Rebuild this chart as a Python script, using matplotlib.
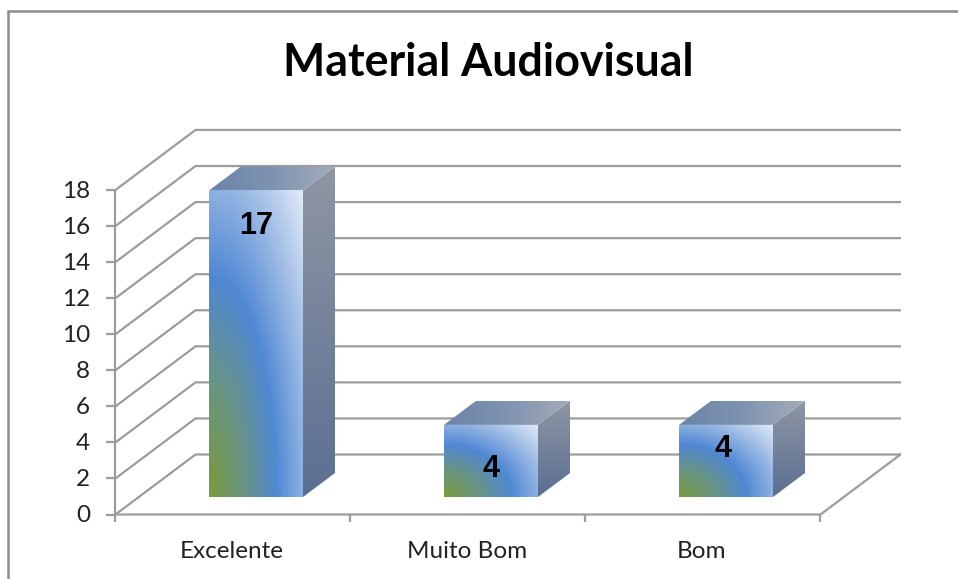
import numpy as np
import matplotlib
matplotlib.use("Agg")
import matplotlib.pyplot as plt
from matplotlib.colors import LinearSegmentedColormap
from matplotlib.patches import Polygon

title = "Material Audiovisual"
categories = ["Excelente", "Muito Bom", "Bom"]
values = [17, 4, 4]
label_heights = [16.0, 2.55, 3.65]
label_shift = [0, 0, -3]
yticks = list(range(0, 20, 2))

W, H = 958, 579
X0, Y0 = 115.5, 514.5
UNIT = 18.03
SLOT = 235.0
DX, DY = 80.0, -60.0
BAR_W = 94.0
GRID = "#9c9c9c"
TEXT = "#222222"

fig = plt.figure(figsize=(W / 100, H / 100), dpi=100, facecolor="white")
ax = fig.add_axes([0, 0, 1, 1])
ax.set_xlim(0, W)
ax.set_ylim(H, 0)
ax.axis("off")


def P(slot, value, depth=0.0):
    return (X0 + slot * SLOT + depth * DX, Y0 - value * UNIT + depth * DY)


def line(pts, lw=1.6, z=1, c=GRID):
    xs, ys = zip(*pts)
    ax.plot(xs, ys, color=c, lw=lw, zorder=z, solid_capstyle="butt", solid_joinstyle="miter")


# outer frame
line([(8, H), (8, 10.5), (W, 10.5)], lw=1.8, c="#8c8c8c")

n = len(categories)
for v in yticks:
    line([P(0, v), P(0, v, 1), (901, P(0, v, 1)[1])])
    line([(106, P(0, v)[1]), P(0, v)])
line([P(0, 0), P(0, 18)])
line([P(0, 0), P(n, 0), P(n, 0, 1), (901, P(n, 0, 1)[1])])
for i in range(n + 1):
    line([P(i, 0), (P(i, 0)[0], P(i, 0)[1] + 7)])

front_cm = LinearSegmentedColormap.from_list(
    "front", [(0, "#7a9a3c"), (0.25, "#6a9580"), (0.51, "#5088d4"), (0.78, "#a3bfe6"), (1, "#e2ebf9")])
side_cm = LinearSegmentedColormap.from_list("side", ["#5a6f92", "#8f96a4"])
top_cm = LinearSegmentedColormap.from_list("top", ["#6b84a8", "#7e93b0", "#a4abb9"])


def fill(poly, rgba, extent):
    im = ax.imshow(rgba, extent=extent, aspect="auto", zorder=3, interpolation="bilinear")
    patch = Polygon(poly, closed=True, transform=ax.transData, fc="none", ec="none")
    ax.add_patch(patch)
    im.set_clip_path(patch)


for i, (val, lab) in enumerate(zip(values, categories)):
    x0 = X0 + i * SLOT + 93.5
    x1 = x0 + BAR_W
    yb = Y0 - 17.5
    yt = yb - val * UNIT
    ddx, ddy = 32.0, -24.0

    # front face
    u, v = np.meshgrid(np.linspace(0, 1, 120), np.linspace(1, 0, 200))
    r = np.sqrt(u ** 2 + v ** 2) / np.sqrt(2)
    fill([(x0, yb), (x1, yb), (x1, yt), (x0, yt)], front_cm(r), (x0, x1, yb, yt))

    # side face
    g = np.linspace(1, 0, 200)[:, None]
    fill([(x1, yb), (x1 + ddx, yb + ddy), (x1 + ddx, yt + ddy), (x1, yt)],
         side_cm(g), (x1, x1 + ddx, yb, yt + ddy))

    # top face
    g = np.linspace(0, 1, 200)[None, :]
    fill([(x0, yt), (x1, yt), (x1 + ddx, yt + ddy), (x0 + ddx, yt + ddy)],
         top_cm(g), (x0, x1 + ddx, yt, yt + ddy))

    ax.text((x0 + x1) / 2 + label_shift[i], Y0 - label_heights[i] * UNIT, str(val),
            ha="center", va="center", fontsize=22, fontweight="bold",
            family="Liberation Sans", color="black", zorder=5)
    ax.text(X0 + (i + 0.5) * SLOT - 1, 551, lab, ha="center", va="center",
            fontsize=17.5, family="Lato", color=TEXT)

for v in yticks:
    ax.text(90, P(0, v)[1] + 1.5, str(v), ha="right", va="center", fontsize=17.5,
            family="Lato", color=TEXT)

ax.text(488, 62.5, title, ha="center", va="center", fontsize=32.2, fontweight="bold",
        family="Lato", color="black")

ax.set_xlim(0, W)
ax.set_ylim(H, 0)
fig.savefig("out.png", dpi=100, facecolor="white")
